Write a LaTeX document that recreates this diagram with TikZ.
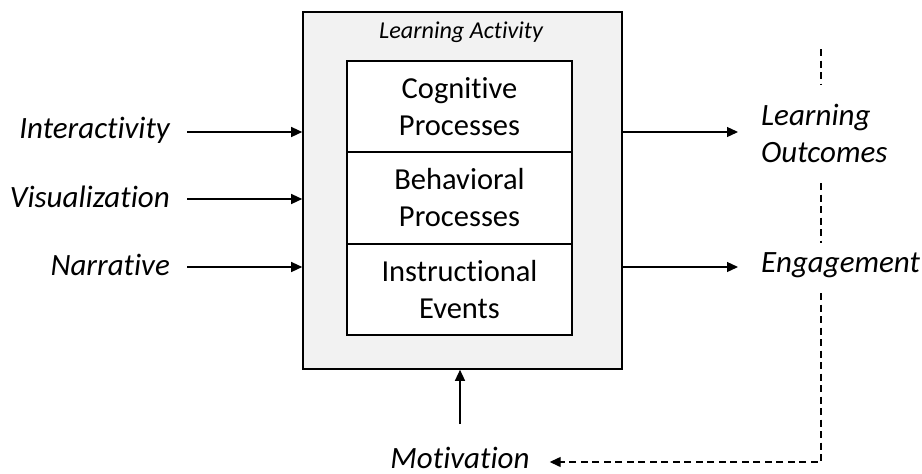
\documentclass[tikz,border=0pt]{standalone}
\usepackage{fontspec}
\setmainfont{Carlito}[Ligatures={NoCommon}]
\usetikzlibrary{arrows.meta}
\begin{document}
\begin{tikzpicture}[x=1pt,y=-1pt,
  lbl/.style={font=\fontsize{31}{37}\selectfont\itshape, inner sep=0pt, align=left},
  celltxt/.style={font=\fontsize{30.5}{37}\selectfont, align=center},
  cell/.style={draw=black, line width=1.3pt, fill=white, minimum width=225pt, inner sep=0pt},
  flow/.style={line width=1.3pt, -{Triangle[length=11pt,width=10pt]}},
  fb/.style={line width=1.3pt, dash pattern=on 7pt off 4.5pt},
]
\useasboundingbox (0,0) rectangle (922,474);

% container for the learning activity
\node[draw=black, line width=1.6pt, fill=black!5, minimum width=319pt, minimum height=357pt, inner sep=0pt]
  (outer) at (462.5,190.5) {};
\node[font=\fontsize{24.2}{28}\selectfont\itshape, inner sep=0pt] (title) at (461,32) {Learning Activity};

% stacked process cells
\node[cell, celltxt, minimum height=91pt] (cog) at (459.5,106.5) {Cognitive\\Processes};
\node[cell, celltxt, minimum height=92pt] (beh) at (459.5,198) {Behavioral\\Processes};
\node[cell, celltxt, minimum height=91pt] (ins) at (459.5,289.5) {Instructional\\Events};

% inputs on the left
\node[lbl, anchor=east] (inter) at (170,130) {Interactivity};
\node[lbl, anchor=east] (vis) at (170,197) {Visualization};
\node[lbl, anchor=east] (nar) at (170,265) {Narrative};
\draw[flow] ([xshift=17pt]inter.east |- 0,132) -- (outer.west |- 0,132);
\draw[flow] ([xshift=17pt]vis.east |- 0,199) -- (outer.west |- 0,199);
\draw[flow] ([xshift=17pt]nar.east |- 0,267) -- (outer.west |- 0,267);

% outputs on the right
\node[lbl, anchor=west] (lo) at (761,133) {Learning\\Outcomes};
\node[lbl, anchor=west] (eng) at (761,265) {Engagement};
\draw[flow] (outer.east |- 0,132) -- ([xshift=-23pt]lo.west |- 0,132);
\draw[flow] (outer.east |- 0,267) -- ([xshift=-23pt]eng.west |- 0,267);

% motivation feeding the activity
\node[lbl, anchor=center] (mot) at (460,458) {Motivation};
\draw[flow] ([yshift=23pt]mot.north) -- (mot.north |- outer.south);

% dashed feedback line
\coordinate (fa) at (821,49);
\coordinate (fb1) at (821,85);
\coordinate (fc) at (821,183);
\coordinate (fd) at (821,243);
\coordinate (fe) at (821,293);
\draw[fb] (fa) -- (fb1);
\draw[fb] (fc) -- (fd);
\draw[fb, -{Triangle[length=11pt,width=10pt]}] (fe) |- ([xshift=20pt]mot.east |- 0,462);
\end{tikzpicture}
\end{document}
